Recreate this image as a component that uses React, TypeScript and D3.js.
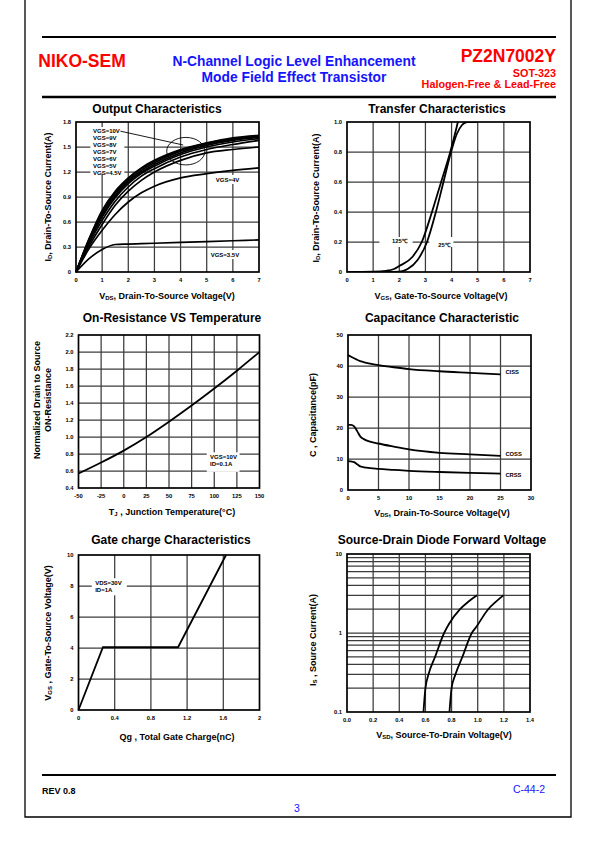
import React from 'react';
import * as d3 from 'd3';

const FONT = "'Liberation Sans', Arial, Helvetica, sans-serif";
const RED = '#ff0000';
const BLUE = '#1414ff';

// ---------------- Output characteristics ----------------
const outVds = [0, 0.5, 1, 1.5, 2, 2.5, 3, 4, 5, 6, 7];
const outId_10V = [0, 0.40, 0.74, 0.97, 1.13, 1.25, 1.34, 1.47, 1.55, 1.61, 1.64];
const outId_9V = [0, 0.39, 0.72, 0.95, 1.12, 1.24, 1.33, 1.46, 1.545, 1.60, 1.635];
const outId_8V = [0, 0.38, 0.70, 0.93, 1.10, 1.22, 1.31, 1.45, 1.535, 1.59, 1.625];
const outId_7V = [0, 0.37, 0.68, 0.91, 1.08, 1.20, 1.29, 1.43, 1.52, 1.58, 1.615];
const outId_6V = [0, 0.36, 0.66, 0.89, 1.06, 1.18, 1.27, 1.41, 1.50, 1.56, 1.60];
const outId_5V = [0, 0.34, 0.62, 0.85, 1.02, 1.15, 1.24, 1.38, 1.47, 1.53, 1.58];
const outId_4_5V = [0, 0.31, 0.57, 0.80, 0.97, 1.10, 1.20, 1.34, 1.43, 1.47, 1.50];
const outId_4V = [0, 0.28, 0.50, 0.69, 0.84, 0.95, 1.03, 1.13, 1.18, 1.22, 1.25];
const outId_3_5V = [0, 0.16, 0.27, 0.33, 0.335, 0.34, 0.345, 0.355, 0.365, 0.375, 0.385];
const outSeries = [outId_10V, outId_9V, outId_8V, outId_7V, outId_6V, outId_5V, outId_4_5V, outId_4V, outId_3_5V];
const outVgsNames = ['VGS=10V', 'VGS=9V', 'VGS=8V', 'VGS=7V', 'VGS=6V', 'VGS=5V', 'VGS=4.5V'];
const outXTicks = [0, 1, 2, 3, 4, 5, 6, 7];
const outYTicks = [0, 0.3, 0.6, 0.9, 1.2, 1.5, 1.8];

// ---------------- Transfer characteristics ----------------
const tr125Vgs = [0, 1, 1.5, 1.8, 2.0, 2.5, 2.86, 3.25, 3.6, 3.95, 4.2, 4.35];
const tr125Id = [0, 0.002, 0.008, 0.02, 0.04, 0.1, 0.2, 0.4, 0.6, 0.8, 0.97, 1.08];
const tr25Vgs = [0, 1.5, 2.0, 2.32, 2.7, 3.06, 3.4, 3.69, 3.98, 4.2, 4.4, 4.6, 5];
const tr25Id = [0, 0, 0.002, 0.02, 0.08, 0.2, 0.4, 0.6, 0.8, 0.92, 0.98, 1.0, 1.0];
const trXTicks = [0, 1, 2, 3, 4, 5, 6, 7];
const trYTicks = [0, 0.2, 0.4, 0.6, 0.8, 1];

// ---------------- On-resistance vs temperature ----------------
const ronTemp = [-50, -25, 0, 25, 50, 75, 100, 125, 150];
const ronNorm = [0.57, 0.70, 0.84, 1.0, 1.18, 1.37, 1.57, 1.78, 2.0];
const ronXTicks = [-50, -25, 0, 25, 50, 75, 100, 125, 150];
const ronYTicks = [0.4, 0.6, 0.8, 1.0, 1.2, 1.4, 1.6, 1.8, 2.0, 2.2];

// ---------------- Capacitance ----------------
const capVds = [0, 0.5, 1, 1.5, 2, 2.5, 3, 5, 7.5, 10, 15, 20, 25];
const capCiss = [43.5, 43, 42.5, 42, 41.6, 41.3, 41, 40.3, 39.6, 39, 38.3, 37.8, 37.3];
const capCoss = [21, 21, 20.5, 19, 17.3, 16.5, 16, 15, 14, 13.1, 12, 11.5, 11];
const capCrss = [9.3, 9.2, 9, 8.3, 7.6, 7.4, 7.2, 6.8, 6.5, 6.2, 5.8, 5.5, 5.3];
const capNames = ['CISS', 'COSS', 'CRSS'];
const capXTicks = [0, 5, 10, 15, 20, 25, 30];
const capYTicks = [0, 10, 20, 30, 40, 50];

// ---------------- Gate charge ----------------
const gateQg = [0, 0.27, 1.1, 1.63];
const gateVgs = [0, 4.05, 4.05, 10];
const gateXTicks = [0, 0.4, 0.8, 1.2, 1.6, 2];
const gateYTicks = [0, 2, 4, 6, 8, 10];

// ---------------- Source-drain diode ----------------
const sd1Vsd = [0.585, 0.60, 0.624, 0.674, 0.743, 0.78, 0.865, 0.93, 0.995];
const sd1Is = [0.1, 0.2, 0.3, 0.5, 1.0, 1.3, 2.0, 2.5, 3.0];
const sd2Vsd = [0.784, 0.80, 0.83, 0.883, 0.955, 0.99, 1.08, 1.14, 1.196];
const sd2Is = [0.1, 0.2, 0.3, 0.5, 1.0, 1.2, 2.0, 2.5, 3.0];
const sdXTicks = [0, 0.2, 0.4, 0.6, 0.8, 1.0, 1.2, 1.4];
const sdYTicks = [0.1, 1, 10];
const sdYGrid = [0.2, 0.3, 0.4, 0.5, 0.6, 0.7, 0.8, 0.9, 1, 2, 3, 4, 5, 6, 7, 8, 9];

type Box = { l: number; r: number; t: number; b: number };
type Scale = (v: number) => number;

const zip = (a: number[], b: number[]) => a.map((v, i) => [v, b[i]] as [number, number]);

const GRID_COLOR = '#3c3c3c';
const LBL = 6; // small annotation font size

function Grid({ box, xs, ys, xGrid, yGrid }: { box: Box; xs: Scale; ys: Scale; xGrid: number[]; yGrid: number[] }) {
  return (
    <g>
      {xGrid.map((v) => (
        <line key={'gx' + v} x1={xs(v)} x2={xs(v)} y1={box.t} y2={box.b} stroke={GRID_COLOR} strokeWidth={1.25} />
      ))}
      {yGrid.map((v) => (
        <line key={'gy' + v} x1={box.l} x2={box.r} y1={ys(v)} y2={ys(v)} stroke={GRID_COLOR} strokeWidth={1.25} />
      ))}
    </g>
  );
}

function Frame({ box, xs, ys, xTicks, yTicks, xFmt, yFmt }: {
  box: Box; xs: Scale; ys: Scale; xTicks: number[]; yTicks: number[];
  xFmt: (v: number) => string; yFmt: (v: number) => string;
}) {
  return (
    <g>
      <rect x={box.l} y={box.t} width={box.r - box.l} height={box.b - box.t} fill="none" stroke="#000" strokeWidth={1.7} />
      {xTicks.map((v) => (
        <text key={'tx' + v} x={xs(v)} y={box.b + 9.5} fontSize={5.8} fontWeight="bold" textAnchor="middle">
          {xFmt(v)}
        </text>
      ))}
      {yTicks.map((v) => (
        <text key={'ty' + v} x={box.l - 5} y={ys(v) + 2} fontSize={5.8} fontWeight="bold" textAnchor="end">
          {yFmt(v)}
        </text>
      ))}
    </g>
  );
}

function Title({ x, y, text }: { x: number; y: number; text: string }) {
  return (
    <text x={x} y={y} fontSize={12} fontWeight="bold" textAnchor="middle">
      {text}
    </text>
  );
}

function AxisLabel({ x, y, rotate, parts }: { x: number; y: number; rotate?: boolean; parts: [string, boolean][] }) {
  // parts: [text, isSubscript]
  let prevSub = false;
  return (
    <text
      transform={`translate(${x},${y})${rotate ? ' rotate(-90)' : ''}`}
      fontSize={9}
      fontWeight="bold"
      textAnchor="middle"
    >
      {parts.map(([t, sub], i) => {
        const dy = sub && !prevSub ? 1.2 : !sub && prevSub ? -1.2 : 0;
        prevSub = sub;
        return (
          <tspan key={i} fontSize={sub ? 6 : 9} dy={dy}>
            {t}
          </tspan>
        );
      })}
    </text>
  );
}

const f1 = (v: number) => (v === 0 ? '0' : v.toFixed(1));
const fInt = (v: number) => String(v);

function OutputChart() {
  const box: Box = { l: 76, r: 259, t: 122, b: 272 };
  const xs = d3.scaleLinear().domain([0, 7]).range([box.l, box.r]);
  const ys = d3.scaleLinear().domain([0, 1.8]).range([box.b, box.t]);
  const line = d3.line<[number, number]>().x((d) => xs(d[0])).y((d) => ys(d[1])).curve(d3.curveMonotoneX);
  const listX = xs(0.65);
  const listY0 = ys(1.69);
  return (
    <g>
      <Title x={157} y={113} text="Output Characteristics" />
      <Grid box={box} xs={xs} ys={ys} xGrid={outXTicks.slice(1, -1)} yGrid={outYTicks.slice(1, -1)} />
      <rect x={xs(0.55)} y={ys(1.74)} width={xs(1.85) - xs(0.55)} height={ys(1.18) - ys(1.74)} fill="#fff" />
      <rect x={xs(5.25)} y={ys(1.11) - 4.5} width={xs(6.35) - xs(5.25)} height={9} fill="#fff" />
      <rect x={xs(5.05)} y={ys(0.21) - 4.5} width={xs(6.4) - xs(5.05)} height={9} fill="#fff" />
      {outSeries.map((s, i) => (
        <path key={i} d={line(zip(outVds, s)) || ''} fill="none" stroke="#000" strokeWidth={1.7} />
      ))}
      {outVgsNames.map((n, i) => (
        <text key={n} x={listX} y={listY0 + i * 6.9 + 2.1} fontSize={LBL} fontWeight="bold">
          {n}
        </text>
      ))}
      <line x1={xs(1.7)} y1={ys(1.69)} x2={xs(4.1)} y2={ys(1.524)} stroke="#000" strokeWidth={0.9} />
      <ellipse cx={xs(4.2)} cy={ys(1.45)} rx={xs(0.73) - xs(0)} ry={ys(0) - ys(0.165)} fill="none" stroke="#000" strokeWidth={0.9} />
      <text x={xs(5.35)} y={ys(1.11) + 2.1} fontSize={LBL} fontWeight="bold">VGS=4V</text>
      <text x={xs(5.15)} y={ys(0.21) + 2.1} fontSize={LBL} fontWeight="bold">VGS=3.5V</text>
      <Frame box={box} xs={xs} ys={ys} xTicks={outXTicks} yTicks={outYTicks} xFmt={fInt} yFmt={f1} />
      <AxisLabel x={51} y={197} rotate parts={[['I', false], ['D', true], [', Drain-To-Source Current(A)', false]]} />
      <AxisLabel x={167} y={299} parts={[['V', false], ['DS', true], [', Drain-To-Source Voltage(V)', false]]} />
    </g>
  );
}

function TransferChart() {
  const box: Box = { l: 347, r: 530, t: 122, b: 272 };
  const xs = d3.scaleLinear().domain([0, 7]).range([box.l, box.r]);
  const ys = d3.scaleLinear().domain([0, 1]).range([box.b, box.t]);
  const line = d3.line<[number, number]>().x((d) => xs(d[0])).y((d) => ys(d[1])).curve(d3.curveMonotoneX);
  return (
    <g>
      <Title x={437} y={113} text="Transfer Characteristics" />
      <Grid box={box} xs={xs} ys={ys} xGrid={trXTicks.slice(1, -1)} yGrid={trYTicks.slice(1, -1)} />
      <rect x={xs(1.24)} y={ys(0.2) - 5} width={xs(2.51) - xs(1.24)} height={10} fill="#fff" />
      <rect x={xs(3.15)} y={ys(0.2) - 5} width={xs(4.07) - xs(3.15)} height={10} fill="#fff" />
      <clipPath id="clipTr">
        <rect x={box.l} y={box.t} width={box.r - box.l} height={box.b - box.t} />
      </clipPath>
      <g clipPath="url(#clipTr)">
        <path d={line(zip(tr125Vgs, tr125Id)) || ''} fill="none" stroke="#000" strokeWidth={1.8} />
        <path d={line(zip(tr25Vgs, tr25Id)) || ''} fill="none" stroke="#000" strokeWidth={1.8} />
      </g>
      <text x={xs(1.72)} y={ys(0.21) + 2} fontSize={5.8} fontWeight="bold">125℃</text>
      <text x={xs(3.49)} y={ys(0.177) + 2} fontSize={5.8} fontWeight="bold">25℃</text>
      <Frame box={box} xs={xs} ys={ys} xTicks={trXTicks} yTicks={trYTicks} xFmt={fInt} yFmt={f1} />
      <AxisLabel x={319} y={198} rotate parts={[['I', false], ['D', true], [', Drain-To-Source Current(A)', false]]} />
      <AxisLabel x={441} y={299} parts={[['V', false], ['GS', true], [', Gate-To-Source Voltage(V)', false]]} />
    </g>
  );
}

function RonChart() {
  const box: Box = { l: 78.5, r: 259.5, t: 335, b: 488 };
  const xs = d3.scaleLinear().domain([-50, 150]).range([box.l, box.r]);
  const ys = d3.scaleLinear().domain([0.4, 2.2]).range([box.b, box.t]);
  const line = d3.line<[number, number]>().x((d) => xs(d[0])).y((d) => ys(d[1])).curve(d3.curveMonotoneX);
  return (
    <g>
      <Title x={172} y={322} text="On-Resistance VS Temperature" />
      <Grid box={box} xs={xs} ys={ys} xGrid={ronXTicks.slice(1, -1)} yGrid={ronYTicks.slice(1, -1)} />
      <rect x={xs(91.7)} y={ys(0.82)} width={xs(128) - xs(91.7)} height={ys(0.59) - ys(0.82)} fill="#fff" />
      <path d={line(zip(ronTemp, ronNorm)) || ''} fill="none" stroke="#000" strokeWidth={1.8} />
      <text x={xs(95.4)} y={ys(0.77) + 2.1} fontSize={LBL} fontWeight="bold">VGS=10V</text>
      <text x={xs(95.4)} y={ys(0.685) + 2.1} fontSize={LBL} fontWeight="bold">ID=0.1A</text>
      <Frame box={box} xs={xs} ys={ys} xTicks={ronXTicks} yTicks={ronYTicks} xFmt={fInt} yFmt={(v) => v.toFixed(1)} />
      <text transform="translate(40,400) rotate(-90)" fontSize={9} fontWeight="bold" textAnchor="middle">
        Normalized Drain to Source
      </text>
      <text transform="translate(51,400) rotate(-90)" fontSize={9} fontWeight="bold" textAnchor="middle">
        ON-Resistance
      </text>
      <AxisLabel x={172} y={515} parts={[['T', false], ['J', true], [' , Junction Temperature(°C)', false]]} />
    </g>
  );
}

function CapChart() {
  const box: Box = { l: 348, r: 531, t: 335, b: 490 };
  const xs = d3.scaleLinear().domain([0, 30]).range([box.l, box.r]);
  const ys = d3.scaleLinear().domain([0, 50]).range([box.b, box.t]);
  const line = d3.line<[number, number]>().x((d) => xs(d[0])).y((d) => ys(d[1])).curve(d3.curveMonotoneX);
  const series = [capCiss, capCoss, capCrss];
  const labelY = [38.2, 11.6, 4.8];
  return (
    <g>
      <Title x={442} y={322} text="Capacitance Characteristic" />
      <Grid box={box} xs={xs} ys={ys} xGrid={capXTicks.slice(1, -1)} yGrid={capYTicks.slice(1, -1)} />
      {series.map((s, i) => (
        <path key={i} d={line(zip(capVds, s)) || ''} fill="none" stroke="#000" strokeWidth={1.8} />
      ))}
      {capNames.map((n, i) => (
        <text key={n} x={xs(25.8)} y={ys(labelY[i]) + 2} fontSize={5.8} fontWeight="bold">
          {n}
        </text>
      ))}
      <Frame box={box} xs={xs} ys={ys} xTicks={capXTicks} yTicks={capYTicks} xFmt={fInt} yFmt={fInt} />
      <AxisLabel x={316} y={415} rotate parts={[['C , Capacitance(pF)', false]]} />
      <AxisLabel x={442} y={516} parts={[['V', false], ['DS', true], [', Drain-To-Source Voltage(V)', false]]} />
    </g>
  );
}

function GateChart() {
  const box: Box = { l: 78.5, r: 259.5, t: 555, b: 710 };
  const xs = d3.scaleLinear().domain([0, 2]).range([box.l, box.r]);
  const ys = d3.scaleLinear().domain([0, 10]).range([box.b, box.t]);
  const line = d3.line<[number, number]>().x((d) => xs(d[0])).y((d) => ys(d[1]));
  return (
    <g>
      <Title x={171} y={544} text="Gate charge Characteristics" />
      <Grid box={box} xs={xs} ys={ys} xGrid={gateXTicks.slice(1, -1)} yGrid={gateYTicks.slice(1, -1)} />
      <rect x={xs(0.147)} y={ys(8.5)} width={xs(0.534) - xs(0.147)} height={ys(7.4) - ys(8.5)} fill="#fff" />
      <path d={line(zip(gateQg, gateVgs)) || ''} fill="none" stroke="#000" strokeWidth={1.8} />
      <text x={xs(0.184)} y={ys(8.19) + 2.1} fontSize={LBL} fontWeight="bold">VDS=30V</text>
      <text x={xs(0.184)} y={ys(7.74) + 2.1} fontSize={LBL} fontWeight="bold">ID=1A</text>
      <Frame box={box} xs={xs} ys={ys} xTicks={gateXTicks} yTicks={gateYTicks} xFmt={(v) => (v === 0 || v === 2 ? String(v) : v.toFixed(1))} yFmt={fInt} />
      <AxisLabel x={51} y={633} rotate parts={[['V', false], ['GS', true], [' , Gate-To-Source Voltage(V)', false]]} />
      <AxisLabel x={177} y={740} parts={[['Qg , Total Gate Charge(nC)', false]]} />
    </g>
  );
}

function SdChart() {
  const box: Box = { l: 347, r: 530, t: 554, b: 712 };
  const xs = d3.scaleLinear().domain([0, 1.4]).range([box.l, box.r]);
  const ys = d3.scaleLog().domain([0.1, 10]).range([box.b, box.t]);
  const line = d3.line<[number, number]>().x((d) => xs(d[0])).y((d) => ys(d[1])).curve(d3.curveMonotoneX);
  return (
    <g>
      <Title x={442} y={544} text="Source-Drain Diode Forward Voltage" />
      <Grid box={box} xs={xs} ys={ys} xGrid={sdXTicks.slice(1, -1)} yGrid={sdYGrid} />
      <path d={line(zip(sd1Vsd, sd1Is)) || ''} fill="none" stroke="#000" strokeWidth={1.8} />
      <path d={line(zip(sd2Vsd, sd2Is)) || ''} fill="none" stroke="#000" strokeWidth={1.8} />
      <Frame box={box} xs={xs} ys={ys} xTicks={sdXTicks} yTicks={sdYTicks} xFmt={(v) => v.toFixed(1)} yFmt={(v) => String(v)} />
      <AxisLabel x={316} y={640} rotate parts={[['I', false], ['S', true], [' , Source Current(A)', false]]} />
      <AxisLabel x={444} y={738} parts={[['V', false], ['SD', true], [', Source-To-Drain Voltage(V)', false]]} />
    </g>
  );
}

export default function App() {
  return (
    <svg
      width={595}
      height={842}
      viewBox="0 0 595 842"
      style={{ position: 'absolute', left: 0, top: 0, background: '#fff' }}
      fontFamily={FONT}
    >
      <rect x={0} y={0} width={595} height={842} fill="#fff" />
      {/* page frame (top edge lies above the visible page) */}
      <path d="M25,0 V817 H571 V0" fill="none" stroke="#000" strokeWidth={1.3} />
      {/* header */}
      <line x1={42} x2={556} y1={37} y2={37} stroke="#000" strokeWidth={2} />
      <line x1={42} x2={556} y1={97} y2={97} stroke="#000" strokeWidth={2.4} />
      <text x={38.3} y={67.3} fontSize={17.5} fontWeight="bold" fill={RED}>NIKO-SEM</text>
      <text x={294} y={65.5} fontSize={13.8} fontWeight="bold" fill={BLUE} textAnchor="middle">
        N-Channel Logic Level Enhancement
      </text>
      <text x={294} y={81.5} fontSize={13.8} fontWeight="bold" fill={BLUE} textAnchor="middle">
        Mode Field Effect Transistor
      </text>
      <text x={556} y={61.7} fontSize={17.5} fontWeight="bold" fill={RED} textAnchor="end">PZ2N7002Y</text>
      <text x={556} y={76.5} fontSize={10.8} fontWeight="bold" fill={RED} textAnchor="end">SOT-323</text>
      <text x={556} y={88.3} fontSize={10.8} fontWeight="bold" fill={RED} textAnchor="end">Halogen-Free &amp; Lead-Free</text>

      <OutputChart />
      <TransferChart />
      <RonChart />
      <CapChart />
      <GateChart />
      <SdChart />

      {/* footer */}
      <line x1={42} x2={556} y1={775} y2={775} stroke="#000" strokeWidth={2} />
      <text x={42} y={794} fontSize={9} fontWeight="bold">REV 0.8</text>
      <text x={545} y={793} fontSize={10.5} fill={BLUE} textAnchor="end">C-44-2</text>
      <text x={297} y={812} fontSize={10.5} fill={BLUE} textAnchor="middle">3</text>
    </svg>
  );
}
